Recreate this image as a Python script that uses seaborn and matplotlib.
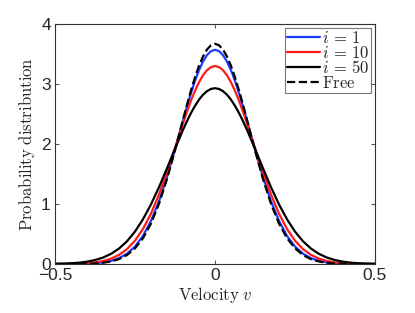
import numpy as np
import pandas as pd
import seaborn as sns
import matplotlib
matplotlib.use("Agg")
import matplotlib.pyplot as plt

# Velocity grid (half, mirrored for the symmetric curves)
v_half = [0.0, 0.0125, 0.025, 0.0375, 0.05, 0.0625, 0.075, 0.0875, 0.1, 0.125, 0.15,
          0.175, 0.2, 0.225, 0.25, 0.275, 0.3, 0.325, 0.35, 0.375, 0.4, 0.425,
          0.45, 0.475, 0.5]

p_i1 = [3.57, 3.548, 3.482, 3.374, 3.230, 3.053, 2.850, 2.627, 2.391, 1.909, 1.449,
        1.046, 0.719, 0.469, 0.292, 0.172, 0.097, 0.052, 0.026, 0.013, 0.006,
        0.003, 0.001, 0.0004, 0.0002]
p_i10 = [3.30, 3.282, 3.230, 3.145, 3.029, 2.887, 2.723, 2.540, 2.344, 1.934, 1.529,
         1.158, 0.840, 0.584, 0.389, 0.248, 0.152, 0.089, 0.050, 0.027, 0.014,
         0.007, 0.003, 0.0015, 0.0006]
p_i50 = [2.93, 2.918, 2.881, 2.821, 2.739, 2.636, 2.517, 2.382, 2.236, 1.921, 1.595,
         1.280, 0.994, 0.746, 0.541, 0.379, 0.257, 0.169, 0.107, 0.066, 0.039,
         0.022, 0.012, 0.0066, 0.0034]
p_free = [3.67, 3.646, 3.574, 3.458, 3.302, 3.111, 2.893, 2.655, 2.404, 1.894, 1.416,
          1.004, 0.675, 0.431, 0.261, 0.150, 0.081, 0.042, 0.021, 0.0095, 0.0042,
          0.0017, 0.0007, 0.0003, 0.0001]

labels = [r"$i\,=\,1$", r"$i\,=\,10$", r"$i\,=\,50$", r"$\mathrm{Free}$"]
colors = ["#1a3cff", "#ff1a1a", "black", "black"]
styles = ["-", "-", "-", "--"]

def full(vals):
    return list(reversed(vals[1:])) + list(vals)

v_full = [-x for x in reversed(v_half[1:])] + list(v_half)

sns.set_style("ticks")
plt.rcParams["mathtext.fontset"] = "cm"
plt.rcParams["font.family"] = ["Liberation Sans", "DejaVu Sans"]

fig = plt.figure(figsize=(4.15, 3.13), dpi=100)
ax = fig.add_axes([0.1325, 0.1565, 0.7711, 0.7668])

for lab, vals, c, ls in zip(labels, [p_i1, p_i10, p_i50, p_free], colors, styles):
    df = pd.DataFrame({"v": v_full, "p": full(vals)})
    sns.lineplot(data=df, x="v", y="p", ax=ax, color=c, linestyle=ls,
                 linewidth=1.6, label=lab)

ax.set_xlim(-0.5, 0.5)
ax.set_ylim(0, 4)
ax.set_xticks([-0.5, 0, 0.5])
ax.set_xticklabels(["\u22120.5", "0", "0.5"])
ax.set_yticks([0, 1, 2, 3, 4])
ax.tick_params(direction="in", length=3, labelsize=12.5, top=True, right=True,
               color="#555555", pad=3)
for s in ax.spines.values():
    s.set_visible(True)
    s.set_color("#333333")
    s.set_linewidth(0.8)

ax.set_xlabel(r"$\mathrm{Velocity}\ v$", fontsize=12, labelpad=1)
ax.set_ylabel(r"$\mathrm{Probability\ distribution}$", fontsize=12, labelpad=3)

leg = ax.legend(loc="upper right", fontsize=12, handlelength=2.0, handletextpad=0.1,
                labelspacing=-0.08, borderpad=0.1, borderaxespad=0.25,
                fancybox=False, frameon=True, edgecolor="#555555")
leg.get_frame().set_linewidth(0.8)

fig.savefig("out.png", dpi=100)
